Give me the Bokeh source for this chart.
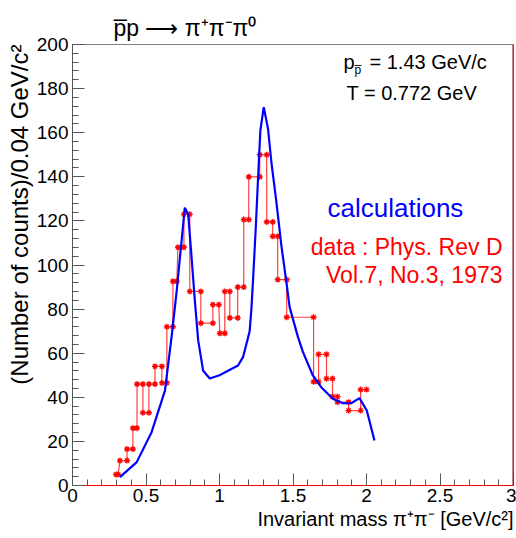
import math
from bokeh.plotting import figure
from bokeh.models import Label, Span, Title, SingleIntervalTicker, Range1d, ColumnDataSource
from bokeh.embed import file_html
from bokeh.resources import INLINE

# ---- data ----
bin_lo = [0.296, 0.323, 0.371, 0.411, 0.439, 0.479, 0.520, 0.561, 0.608, 0.642,
          0.683, 0.717, 0.758, 0.798, 0.873, 0.955, 1.002, 1.036, 1.070, 1.124,
          1.165, 1.199, 1.274, 1.321, 1.362, 1.396, 1.457, 1.640, 1.674, 1.728,
          1.769, 1.803, 1.878, 1.960]
bin_hi = [0.310, 0.371, 0.411, 0.439, 0.479, 0.520, 0.561, 0.608, 0.642, 0.683,
          0.710, 0.758, 0.798, 0.873, 0.955, 0.995, 1.036, 1.070, 1.124, 1.165,
          1.199, 1.274, 1.321, 1.362, 1.396, 1.457, 1.640, 1.674, 1.728, 1.769,
          1.803, 1.878, 1.960, 2.000]
counts = [5, 11.3, 16.5, 26, 46, 33, 46, 54, 46.5, 72,
          92.6, 108, 123, 88, 73.6, 82, 69, 88, 76, 90,
          120.6, 140, 150, 119.5, 113, 93.4, 76.3, 47, 59.5, 48.5,
          40.3, 37.8, 34, 43.5]

calc_x = [0.323, 0.437, 0.538, 0.629, 0.675, 0.710, 0.742, 0.764, 0.787, 0.810,
          0.832, 0.855, 0.889, 0.934, 1.000, 1.126, 1.160, 1.194, 1.205, 1.217,
          1.228, 1.246, 1.262, 1.278, 1.301, 1.330, 1.353, 1.387, 1.421, 1.455,
          1.477, 1.534, 1.568, 1.635, 1.692, 1.771, 1.839, 1.896, 1.952, 2.002,
          2.054]
calc_y = [3.8, 10.6, 24.2, 43, 68, 89, 111, 126, 123, 103.5,
          84, 65.8, 52, 48.5, 50, 54.4, 58.2, 67, 70, 80,
          93, 116, 139, 161, 171.6, 161.8, 146.6, 128.5, 108.8, 92.2,
          80.9, 67.3, 60.5, 49.9, 44.6, 39.3, 37.3, 37.3, 39.6, 34,
          20.4]

x_ticks = [0, 0.5, 1, 1.5, 2, 2.5, 3]
x_tick_labels = ["0", "0.5", "1", "1.5", "2", "2.5", "3"]

FONT = "Liberation Sans"
W, H = 516, 536
FL, FT, FR, FB = 72, 44, 513, 485   # frame edges on the page

p = figure(width=W, height=H, output_backend="svg", toolbar_location=None,
           x_range=Range1d(0, 3), y_range=Range1d(0, 200),
           min_border_left=FL, min_border_top=FT, min_border_right=W - FR,
           min_border_bottom=H - FB)
p.xgrid.visible = False
p.ygrid.visible = False
p.outline_line_color = "#808080"
p.outline_line_width = 1
p.background_fill_color = "white"
p.border_fill_color = "white"

# title
p.title.text = "p\u0305p \u27f6 \u03c0\u207a\u03c0\u207b\u03c0\u2070"
p.title.align = "left"
p.title.offset = 41
p.title.text_font = FONT
p.title.text_font_size = "23px"
p.title.text_font_style = "normal"
p.title.text_color = "black"
p.title.standoff = 7

# axes
xa = p.xaxis[0]
xa.ticker = SingleIntervalTicker(interval=0.5, num_minor_ticks=5)
xa.major_label_overrides = {t: l for t, l in zip(x_ticks, x_tick_labels)}
ya = p.yaxis[0]
ya.ticker = SingleIntervalTicker(interval=20, num_minor_ticks=5)
for ax in (xa, ya):
    ax.major_tick_in = 12
    ax.major_tick_out = 0
    ax.minor_tick_in = 6
    ax.minor_tick_out = 0
    ax.major_tick_line_color = "#555555"
    ax.minor_tick_line_color = "#555555"
    ax.major_label_text_font = FONT
    ax.major_label_text_font_size = "19px"
    ax.major_label_text_color = "black"
xa.axis_line_color = "#ff0000"
ya.axis_line_color = "#555555"
xa.major_label_standoff = 3
ya.major_label_standoff = 4

# axis titles as side titles
p.add_layout(Title(text="(Number of counts)/0.04 GeV/c\u00b2", align="right",
                   text_font=FONT, text_font_size="24px", text_font_style="normal",
                   text_color="black", standoff=1), "left")
p.add_layout(Title(text="Invariant mass \u03c0\u207a\u03c0\u207b [GeV/c\u00b2]", align="right",
                   text_font=FONT, text_font_size="20px", text_font_style="normal",
                   text_color="black", standoff=2), "below")

# right frame edge in dark red
p.add_layout(Span(location=3, dimension="height", line_color="#b00000", line_width=2))

# data histogram-like polyline
px, py = [], []
for lo, hi, c in zip(bin_lo, bin_hi, counts):
    px += [lo, hi]
    py += [c, c]
src = ColumnDataSource(dict(x=px, y=py))
p.line("x", "y", source=src, line_color="#ff4040", line_width=1.2)
p.scatter("x", "y", source=src, marker="asterisk", size=6, line_color="#ff0000",
          line_width=1.3)

# calculation curve
p.line(calc_x, calc_y, line_color="#0000ff", line_width=2.2)

def lab(text, x, y, size, color="black", align="left", baseline="middle"):
    # x, y given in page pixels; Label screen units are frame-relative
    p.add_layout(Label(x=x - FL, y=FB - y, x_units="screen", y_units="screen",
                       text=text, text_font=FONT, text_font_size=size,
                       text_color=color, text_align=align,
                       text_baseline=baseline))

lab("p", 343, 61, "20px")
lab("p\u0305", 354, 69, "12px")
lab("= 1.43 GeV/c", 369, 61, "20px")
lab("T = 0.772 GeV", 346, 92, "20px")
lab("calculations", 327, 207, "26px", color="#0000ff")
lab("data : Phys. Rev D", 502, 246, "23px", color="#ff0000", align="right")
lab("Vol.7, No.3, 1973", 502, 274, "23px", color="#ff0000", align="right")

open("out.html", "w").write(file_html(p, INLINE))
